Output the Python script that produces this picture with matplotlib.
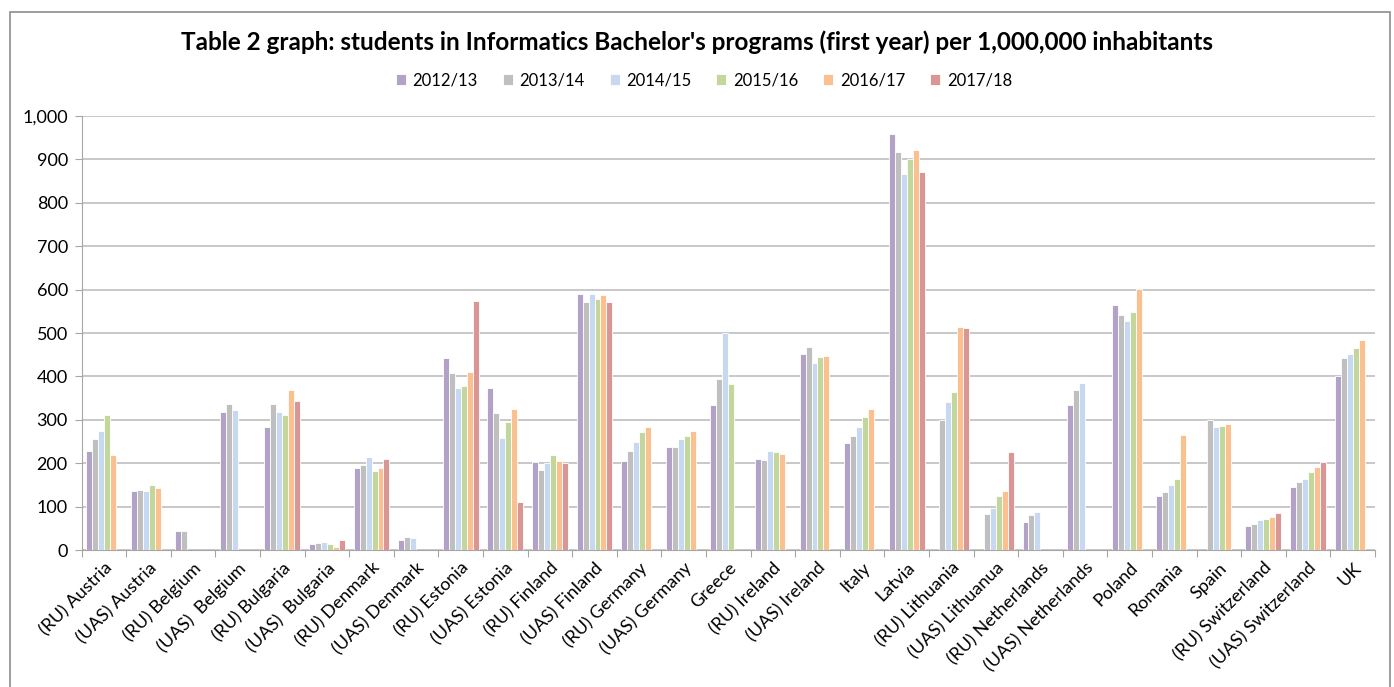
import matplotlib.pyplot as plt
import numpy as np
from matplotlib.patches import Rectangle
from matplotlib.ticker import FuncFormatter

plt.rcParams['font.family'] = ['Lato', 'DejaVu Sans']

# Data (nan = no bar)
nan = np.nan
categories = ['(RU) Austria', '(UAS) Austria', '(RU) Belgium', '(UAS)  Belgium',
              '(RU) Bulgaria', '(UAS)  Bulgaria', '(RU) Denmark', '(UAS) Denmark',
              '(RU) Estonia', '(UAS) Estonia', '(RU) Finland', '(UAS) Finland',
              '(RU) Germany', '(UAS) Germany', 'Greece', '(RU) Ireland',
              '(UAS) Ireland', 'Italy', 'Latvia', '(RU) Lithuania',
              '(UAS) Lithuanua', '(RU) Netherlands', '(UAS) Netherlands', 'Poland',
              'Romania', 'Spain', '(RU) Switzerland', '(UAS) Switzerland', 'UK']
years = ['2012/13', '2013/14', '2014/15', '2015/16', '2016/17', '2017/18']

y2012 = [229, 135, 44, 318, 283, 15, 190, 23, 442, 373, 202, 589, 204, 237, 333,
         210, 452, 246, 958, nan, nan, 64, 333, 565, 124, nan, 55, 146, 401]
y2013 = [256, 138, 44, 337, 336, 16, 196, 30, 409, 316, 184, 572, 229, 237, 394,
         208, 467, 263, 916, 300, 83, 81, 369, 541, 134, 300, 61, 156, 442]
y2014 = [274, 136, nan, 322, 318, 18, 214, 27, 373, 257, 200, 589, 250, 255, 500,
         228, 431, 283, 866, 340, 97, 88, 384, 527, 149, 283, 69, 163, 452]
y2015 = [312, 150, nan, nan, 310, 14, 182, nan, 379, 296, 218, 578, 271, 262, 382,
         226, 445, 306, 901, 365, 124, nan, nan, 549, 163, 286, 72, 180, 465]
y2016 = [218, 143, nan, nan, 369, 8, 188, nan, 411, 326, 204, 587, 283, 274, nan,
         221, 448, 326, 922, 515, 137, nan, nan, 601, 265, 290, 77, 192, 484]
y2017 = [nan, nan, nan, nan, 343, 22, 210, nan, 574, 110, 200, 571, nan, nan, nan,
         nan, nan, nan, 872, 512, 226, nan, nan, nan, nan, nan, 85, 203, nan]
series = [y2012, y2013, y2014, y2015, y2016, y2017]
colors = ['#B3A2C7', '#BFBFBF', '#C6D9F1', '#C3D69B', '#FAC090', '#D99694']

fig = plt.figure(figsize=(13.94, 6.87), dpi=100)
ax = fig.add_axes([0.0586, 0.1994, 0.9277, 0.6317])

x = np.arange(len(categories))
w = 0.134
for i, (vals, col, lab) in enumerate(zip(series, colors, years)):
    ax.bar(x + (i - 2.5) * w, vals, width=w, color=col, edgecolor='white',
           linewidth=0.6, label=lab, zorder=3)

ax.set_xlim(-0.5, len(categories) - 0.5)
ax.set_ylim(0, 1000)
ax.set_yticks(np.arange(0, 1001, 100))
ax.yaxis.set_major_formatter(FuncFormatter(lambda v, p: f'{int(v):,}'))
ax.grid(axis='y', color='#BFBFBF', linewidth=1.2, zorder=0)

# category separators as ticks
ax.set_xticks(np.arange(-0.5, len(categories)), minor=False)
ax.set_xticklabels([])
ax.set_xticks(x, minor=True)
ax.set_xticklabels(categories, minor=True, rotation=45, ha='right',
                   rotation_mode='anchor', fontsize=13)
ax.tick_params(axis='x', which='minor', length=0, pad=7)
ax.tick_params(axis='x', which='major', length=5, color='#A6A6A6')
ax.tick_params(axis='y', length=5, color='#A6A6A6', labelsize=13, pad=5)

for s in ['top', 'right']:
    ax.spines[s].set_visible(False)
ax.spines['left'].set_color('#A6A6A6')
ax.spines['bottom'].set_color('#A6A6A6')

fig.text(0.5, 0.938, "Table 2 graph: students in Informatics Bachelor's programs (first year) per 1,000,000 inhabitants",
         ha='center', va='center', fontsize=17.5, fontweight='bold')
fig.legend(loc='center', bbox_to_anchor=(0.505, 0.883), ncol=6, frameon=False,
           fontsize=12, handlelength=0.6, handleheight=0.6, handletextpad=0.4,
           columnspacing=1.5)

# outer chart border
fig.patches.append(Rectangle((10 / 1394, -0.01), 1380 / 1394, 1 - 12 / 687 + 0.01,
                             transform=fig.transFigure, fill=False,
                             edgecolor='#8C8C8C', linewidth=1.2))

plt.savefig('out.png', dpi=100)
